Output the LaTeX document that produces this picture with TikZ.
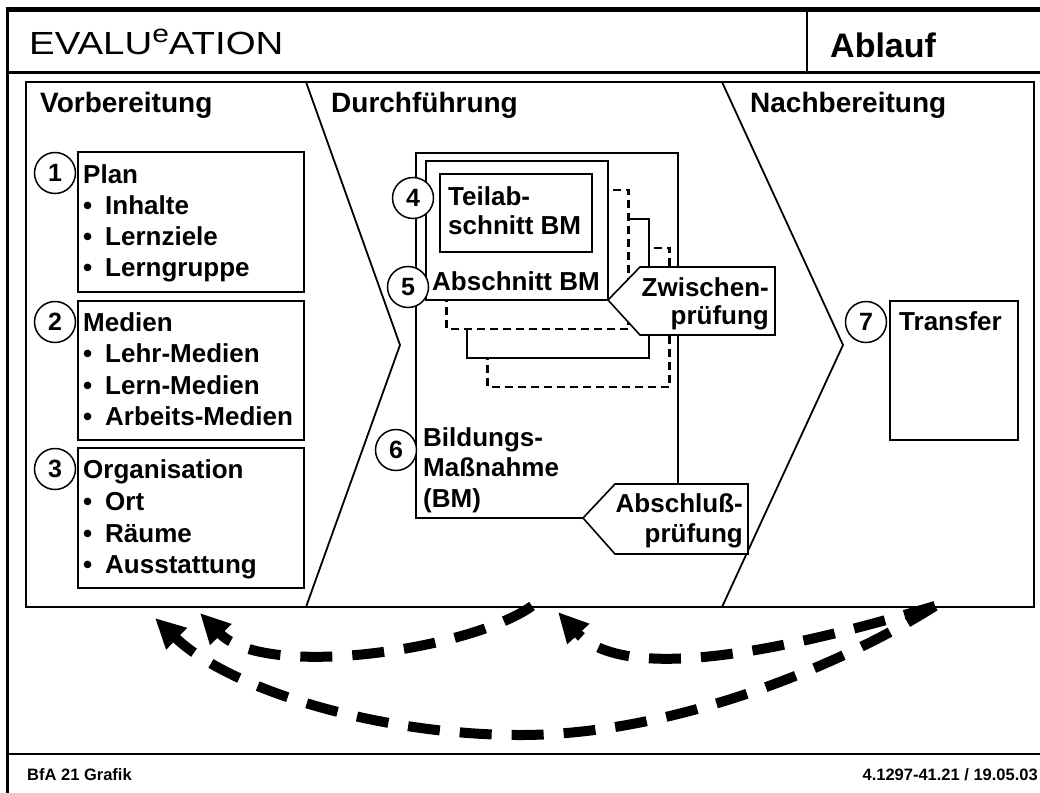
\documentclass[tikz,border=0pt]{standalone}
\usepackage{fontspec}
\setmainfont{Liberation Sans}
\newfontfamily\hdfont{Liberation Sans}[FakeStretch=1.2]
\usetikzlibrary{arrows.meta}
\newcommand\fbody{\fontsize{26}{30}\selectfont\bfseries}
\newcommand\fhead{\fontsize{28}{32}\selectfont\bfseries}
\newcommand\fnum{\fontsize{25}{30}\selectfont\bfseries}
\newcommand\ffoot{\fontsize{16.5}{20}\selectfont\bfseries}
\newcommand\bul{\makebox[22pt][l]{\textbullet}}
\tikzset{
  pline/.style={line width=1.8pt},
  sbox/.style={draw, line width=1.6pt, fill=white},
  dbox/.style={draw, line width=2.5pt, dash pattern=on 8pt off 5pt, fill=white},
  num/.style={circle, draw, line width=1.5pt, fill=white, minimum size=41pt, inner sep=0pt, font=\fnum},
  txt/.style={anchor=base west, inner sep=0pt, font=\fbody},
  rtxt/.style={anchor=base east, inner sep=0pt, font=\fbody},
  htxt/.style={anchor=base west, inner sep=0pt, font=\fhead},
  loopline/.style={line width=10pt, dash pattern=on 32pt off 20pt, -{Triangle[length=30pt,width=28pt]}},
}
\begin{document}
\begin{tikzpicture}[x=1pt,y=-1pt]
\useasboundingbox (0,0) rectangle (1040,792);
% outer frame
\draw[line width=4.3pt] (5.5,9.5) -- (1045,9.5);
\draw[line width=3.3pt] (7.7,7.5) -- (7.7,795);
\draw[line width=3pt] (7.7,72.5) -- (1045,72.5);
\draw[line width=1.8pt] (807,9.5) -- (807,72.5);
\draw[line width=2.5pt] (7.7,754) -- (1045,754);
% header
\node[anchor=base west, inner sep=0pt, font=\hdfont\fontsize{32}{36}\selectfont] (title) at (29,55)
  {EVALU\raisebox{12pt}{\fontsize{25}{28}\selectfont e}ATION};
\node[anchor=base west, inner sep=0pt, font=\fontsize{34}{40}\selectfont\bfseries] (abl) at (830,57) {Ablauf};
% panel
\draw[pline] (26,82) rectangle (1034,607);
\draw[pline] (306,82) -- (400,345) -- (306,607);
\draw[pline] (722,82) -- (843,345) -- (722,607);
\node[htxt] (h1) at (40,112) {Vorbereitung};
\node[htxt] (h2) at (331,112) {Durchführung};
\node[htxt] (h3) at (750,112) {Nachbereitung};
% left boxes
\draw[sbox] (78,152) rectangle (304,292);
\draw[sbox] (78,301) rectangle (304,440);
\draw[sbox] (78,448) rectangle (304,588);
\node[txt] (p0) at (83,183) {Plan};
\node[txt] (p1) at (83,214) {\bul Inhalte};
\node[txt] (p2) at (83,245) {\bul Lernziele};
\node[txt] (p3) at (83,276) {\bul Lerngruppe};
\node[txt] (m0) at (83,331) {Medien};
\node[txt] (m1) at (83,362) {\bul Lehr-Medien};
\node[txt] (m2) at (83,394) {\bul Lern-Medien};
\node[txt] (m3) at (83,425) {\bul Arbeits-Medien};
\node[txt] (o0) at (83,478) {Organisation};
\node[txt] (o1) at (83,510) {\bul Ort};
\node[txt] (o2) at (83,542) {\bul Räume};
\node[txt] (o3) at (83,573) {\bul Ausstattung};
\node[num] (n1) at (55,173) {1};
\node[num] (n2) at (55,322) {2};
\node[num] (n3) at (55,469) {3};
% middle
\draw[line width=1.6pt] (416,153) rectangle (678,518);
\draw[dbox] (487.5,248) rectangle (669.5,387);
\draw[sbox] (467,219) rectangle (649,358);
\draw[dbox] (446.5,190) rectangle (628.5,329);
\draw[sbox] (426,161) rectangle (608,300);
\draw[sbox] (440,174) rectangle (592,252);
\draw[sbox] (608,300) -- (640,267) -- (775,267) -- (775,335) -- (640,335) -- cycle;
\draw[sbox] (583,518) -- (615,484) -- (748,484) -- (748,554) -- (615,554) -- cycle;
\node[txt] (t1) at (448,205) {Teilab-};
\node[txt] (t2) at (448,234) {schnitt BM};
\node[txt] (a1) at (432,290.5) {Abschnitt BM};
\node[rtxt] (z1) at (769,296.5) {Zwischen-};
\node[rtxt] (z2) at (769,324.5) {prüfung};
\node[txt] (b1) at (423,446) {Bildungs-};
\node[txt] (b2) at (423,476.5) {Maßnahme};
\node[txt] (b3) at (423,507) {(BM)};
\node[rtxt] (c1) at (743,512) {Abschluß-};
\node[rtxt] (c2) at (743,542) {prüfung};
\node[num] (n4) at (413,198) {4};
\node[num] (n5) at (408,287) {5};
\node[num] (n6) at (396,450) {6};
% right
\draw[sbox] (890,301) rectangle (1018,440);
\node[txt] (tr) at (899,330) {Transfer};
\node[num] (n7) at (866,322) {7};
% feedback loops
\coordinate (s1) at (532,606);
\coordinate (e1) at (200,613);
\coordinate (s2) at (935,606);
\coordinate (e2) at (558,612);
\coordinate (s3) at (935,606);
\coordinate (m3) at (520,735);
\coordinate (e3) at (155,618);
\draw[loopline] (s1) .. controls (470,650) and (265,680) .. (e1);
\draw[loopline] (s2) .. controls (820,640) and (630,690) .. (e2);
\draw[loopline] (s3) .. controls (850,660) and (680,735) .. (m3) .. controls (380,735) and (230,690) .. (e3);
% footer
\node[anchor=base west, inner sep=0pt, font=\ffoot] (f1) at (27,780) {BfA 21 Grafik};
\node[anchor=base east, inner sep=0pt, font=\ffoot] (f2) at (1038,780) {4.1297-41.21 / 19.05.03};
\end{tikzpicture}
\end{document}
